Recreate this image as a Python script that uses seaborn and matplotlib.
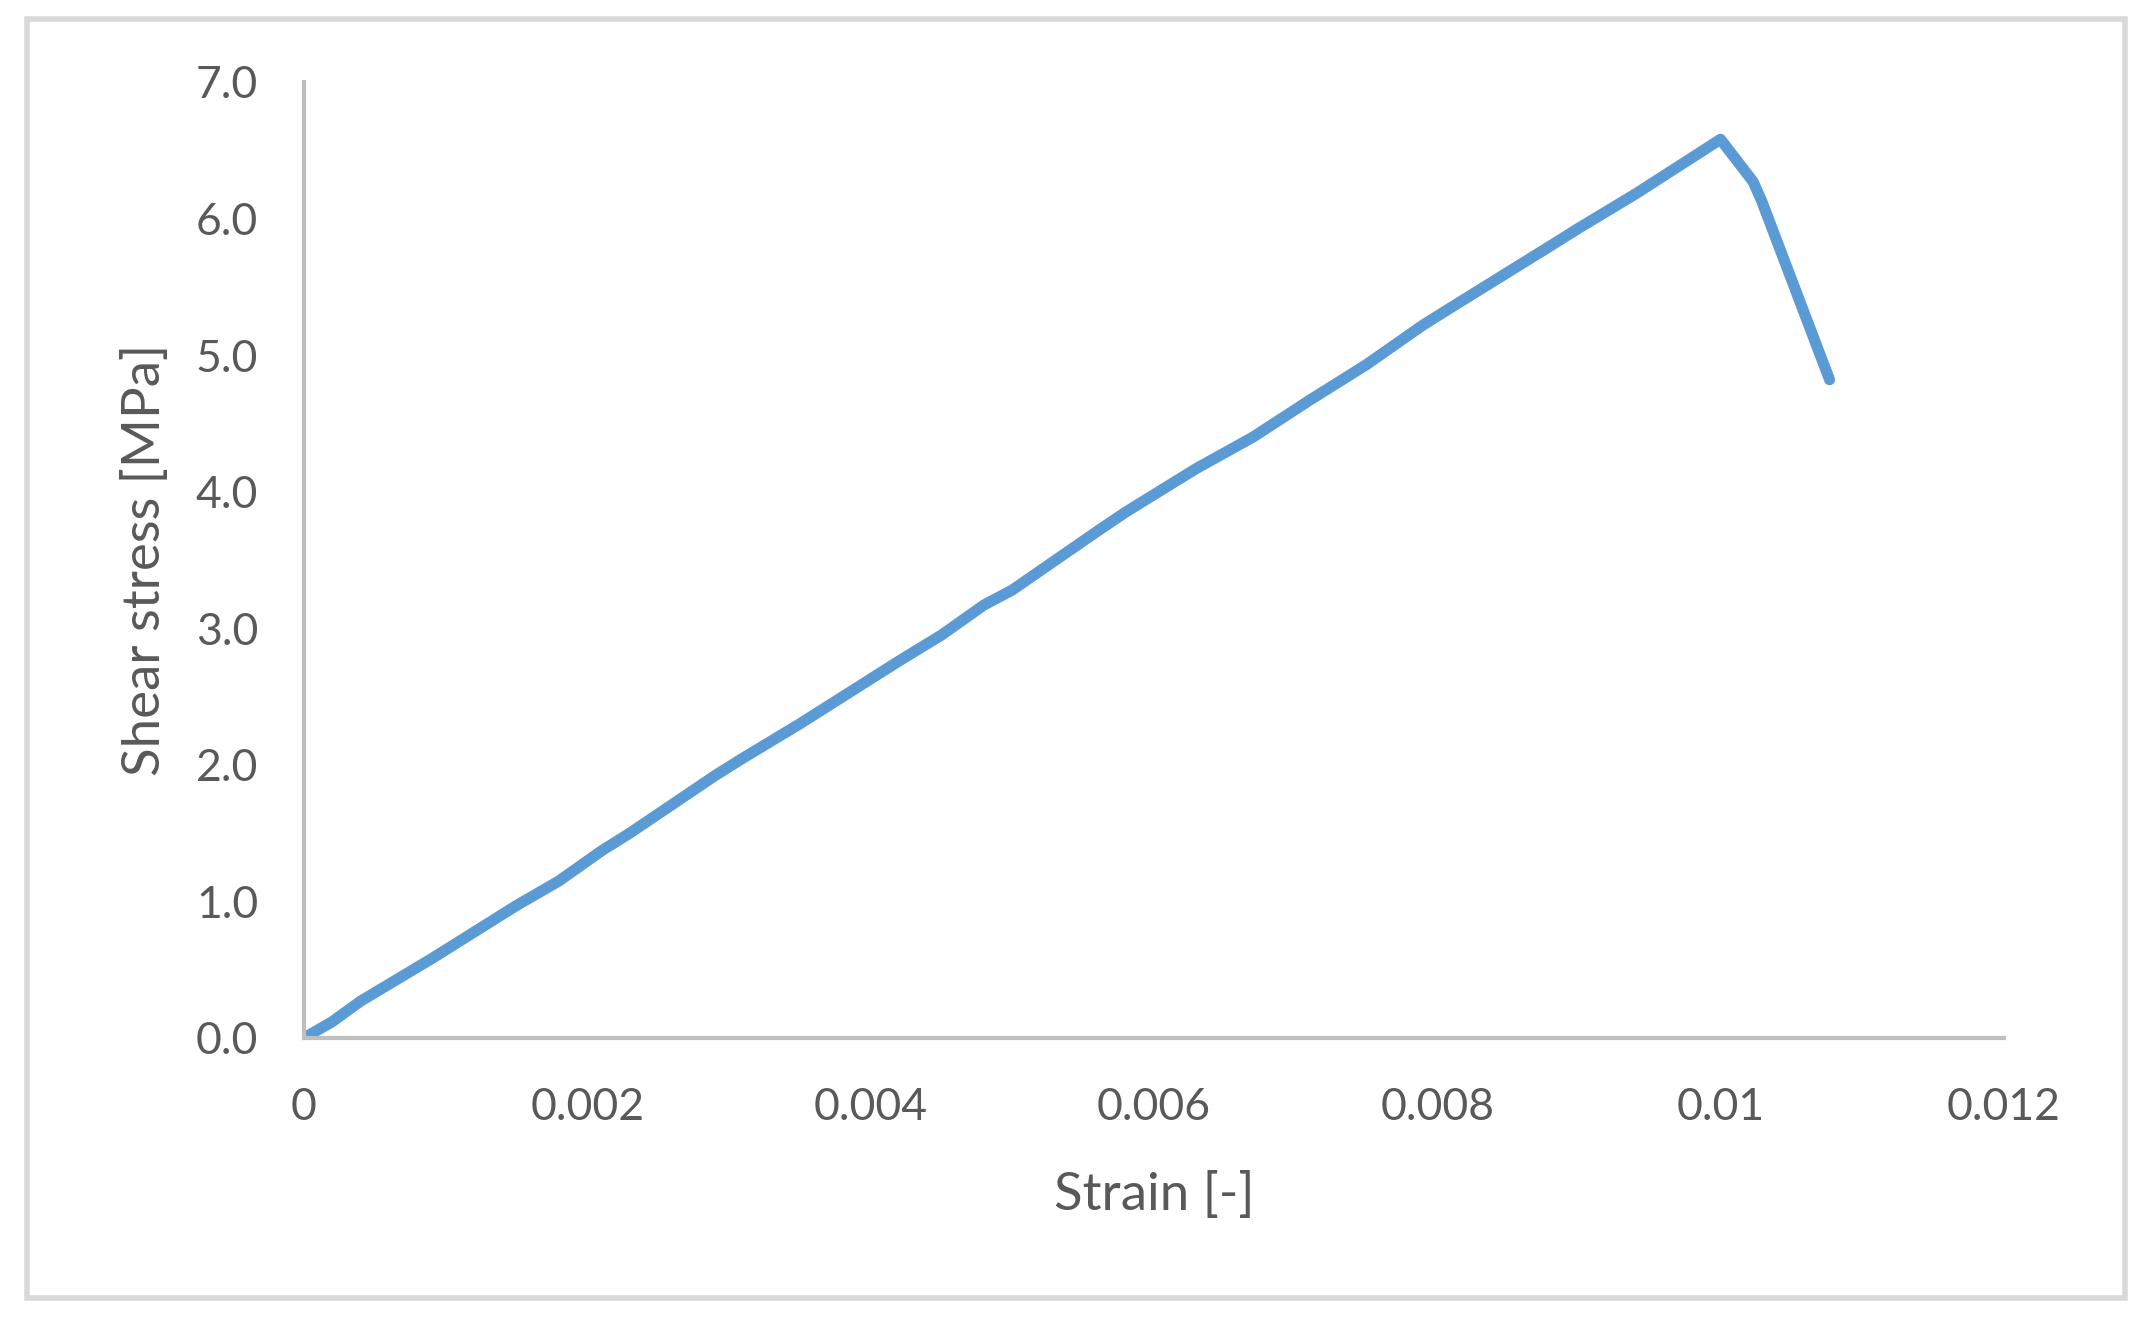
import numpy as np
import pandas as pd
import matplotlib.pyplot as plt
import matplotlib.patches as mpatches
import seaborn as sns

# strain / shear stress readings taken off the curve
strain = [0.0, 0.0002, 0.0004, 0.0009, 0.0015, 0.0018, 0.0021, 0.0023,
          0.0029, 0.0031, 0.0035, 0.0042, 0.0045, 0.0048, 0.0050, 0.0056,
          0.0058, 0.0063, 0.0067, 0.0071, 0.0075, 0.0079, 0.0081, 0.0088,
          0.0090, 0.0094, 0.0100, 0.01023, 0.01029, 0.01077]
stress = [0.00, 0.12, 0.27, 0.58, 0.97, 1.15, 1.37, 1.50,
          1.92, 2.05, 2.30, 2.76, 2.95, 3.17, 3.28, 3.71,
          3.85, 4.17, 4.40, 4.67, 4.93, 5.22, 5.35, 5.80,
          5.93, 6.18, 6.58, 6.27, 6.13, 4.82]

x_ticks = [0, 0.002, 0.004, 0.006, 0.008, 0.010, 0.012]
x_labels = ['0', '0.002', '0.004', '0.006', '0.008', '0.01', '0.012']
y_ticks = [0, 1, 2, 3, 4, 5, 6, 7]
y_labels = ['0.0', '1.0', '2.0', '3.0', '4.0', '5.0', '6.0', '7.0']

df = pd.DataFrame({'strain': strain, 'stress': stress})

sns.set_style('white')
plt.rcParams['font.family'] = ['Lato', 'DejaVu Sans']

fig = plt.figure(figsize=(21.5, 13.26), dpi=100)
ax = fig.add_axes([0.1414, 0.2172, 0.932 - 0.1414, 0.9382 - 0.2172])

sns.lineplot(data=df, x='strain', y='stress', sort=False, ax=ax,
             color='#5B9BD5', linewidth=8, solid_capstyle='round',
             solid_joinstyle='round')

ax.set_xlim(0, 0.012)
ax.set_ylim(0, 7.0)
ax.set_xticks(x_ticks)
ax.set_xticklabels(x_labels)
ax.set_yticks(y_ticks)
ax.set_yticklabels(y_labels)

grey = '#BFBFBF'
for side in ['top', 'right']:
    ax.spines[side].set_visible(False)
for side in ['left', 'bottom']:
    ax.spines[side].set_color(grey)
    ax.spines[side].set_linewidth(3)
ax.tick_params(axis='both', direction='out', length=11, width=3, color=grey,
               labelsize=32, labelcolor='#595959')
ax.tick_params(axis='y', pad=22)
ax.tick_params(axis='x', pad=24)

ax.set_xlabel('Strain [-]', fontsize=38, color='#595959', labelpad=31)
ax.set_ylabel('Shear stress [MPa]', fontsize=38, color='#595959', labelpad=19)

# chart area border
border = mpatches.Rectangle((27 / 2150, 1 - 1298 / 1326), (2125 - 27) / 2150,
                            (1298 - 19) / 1326, transform=fig.transFigure,
                            fill=False, edgecolor='#D9D9D9', linewidth=4)
fig.patches.append(border)

fig.savefig('out.png', dpi=100)
